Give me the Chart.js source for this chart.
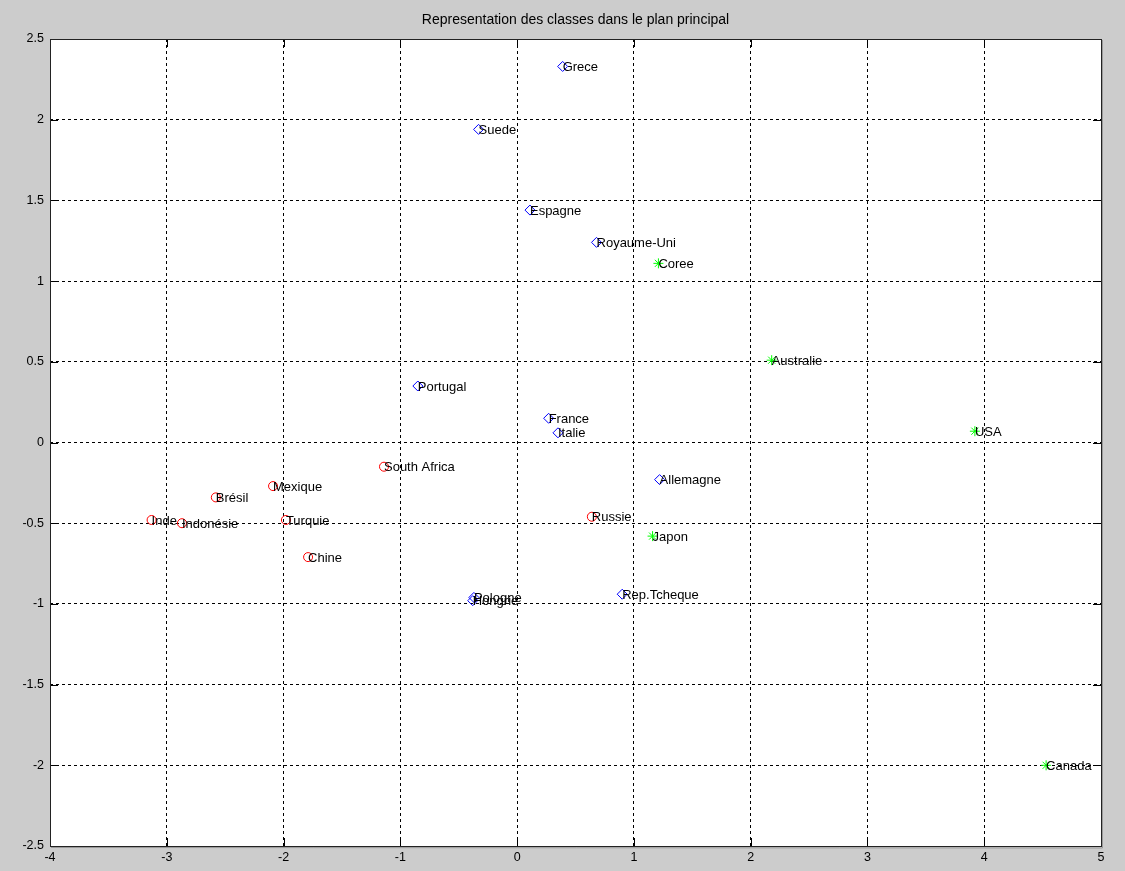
<!DOCTYPE html>
<html>
<head>
<meta charset="utf-8">
<script src="https://cdn.jsdelivr.net/npm/chart.js@4.4.1/dist/chart.umd.min.js"></script>
<style>
  html, body { margin: 0; padding: 0; background: #cccccc; }
  #wrap { width: 1125px; height: 871px; }
</style>
</head>
<body>
<div id="wrap"><canvas id="c" width="1125" height="871"></canvas></div>
<script>
const names = ["Grece","Suede","Espagne","Royaume-Uni","Portugal","France","Italie","Allemagne","Rep.Tcheque","Pologne","Hongrie",
               "South Africa","Mexique","Brésil","Russie","Inde","Indonésie","Turquie","Chine",
               "Coree","Australie","USA","Japon","Canada"];
const xs = [0.39,-0.33,0.11,0.68,-0.85,0.27,0.35,1.22,0.90,-0.37,-0.38,
            -1.14,-2.09,-2.58,0.64,-3.13,-2.87,-1.98,-1.79,
            1.21,2.18,3.92,1.16,4.53];
const ys = [2.33,1.94,1.44,1.24,0.35,0.15,0.06,-0.23,-0.94,-0.96,-0.98,
            -0.15,-0.27,-0.34,-0.46,-0.48,-0.50,-0.48,-0.71,
            1.11,0.51,0.07,-0.58,-2.00];
const groups = [0,0,0,0,0,0,0,0,0,0,0,
                1,1,1,1,1,1,1,1,
                2,2,2,2,2];
const xTicks = [-4,-3,-2,-1,0,1,2,3,4,5];
const yTicks = [-2.5,-2,-1.5,-1,-0.5,0,0.5,1,1.5,2,2.5];
const titleText = "Representation des classes dans le plan principal";

const groupStyles = [
  {color: "#0000ff", style: "rectRot", radius: 5},
  {color: "#ff0000", style: "circle", radius: 4.5},
  {color: "#00ff00", style: "star", radius: 5}
];
const FONT = "'Liberation Sans', Arial, Helvetica, sans-serif";

const datasets = groupStyles.map((g, gi) => ({
  label: "G" + (gi + 1),
  data: names.map((n, i) => ({x: xs[i], y: ys[i], name: n, g: groups[i]})).filter(p => p.g === gi),
  showLine: false,
  pointStyle: g.style,
  pointRadius: g.radius,
  pointHoverRadius: g.radius,
  pointBorderColor: g.color,
  pointBackgroundColor: "rgba(0,0,0,0)",
  pointBorderWidth: 1
}));

const framePlugin = {
  id: "frame",
  beforeDraw(chart) {
    const {ctx, chartArea: a} = chart;
    ctx.save();
    ctx.fillStyle = "#cccccc";
    ctx.fillRect(0, 0, chart.width, chart.height);
    ctx.fillStyle = "#ffffff";
    ctx.fillRect(a.left, a.top, a.right - a.left, a.bottom - a.top);
    ctx.restore();
  },
  afterDatasetsDraw(chart) {
    const {ctx} = chart;
    const xs_ = chart.scales.x, ys_ = chart.scales.y;
    ctx.save();
    ctx.font = "13px " + FONT;
    ctx.fillStyle = "#000";
    ctx.textAlign = "left";
    ctx.textBaseline = "middle";
    chart.data.datasets.forEach(ds => {
      ds.data.forEach(p => {
        ctx.fillText(p.name, xs_.getPixelForValue(p.x), ys_.getPixelForValue(p.y) + 1);
      });
    });
    ctx.restore();
  },
  afterDraw(chart) {
    const {ctx, chartArea: a} = chart;
    const L = 8;
    ctx.save();
    ctx.strokeStyle = "#000";
    ctx.lineWidth = 1;
    ctx.beginPath();
    chart.scales.x.ticks.forEach(t => {
      const px = Math.round(chart.scales.x.getPixelForValue(t.value)) + 0.5;
      ctx.moveTo(px, a.bottom); ctx.lineTo(px, a.bottom - L);
      ctx.moveTo(px, a.top); ctx.lineTo(px, a.top + L);
    });
    chart.scales.y.ticks.forEach(t => {
      const py = Math.round(chart.scales.y.getPixelForValue(t.value)) + 0.5;
      ctx.moveTo(a.left, py); ctx.lineTo(a.left + L, py);
      ctx.moveTo(a.right, py); ctx.lineTo(a.right - L, py);
    });
    ctx.stroke();
    ctx.strokeStyle = "#222";
    ctx.strokeRect(Math.round(a.left) + 0.5, Math.round(a.top) + 0.5,
                   Math.round(a.right - a.left), Math.round(a.bottom - a.top));
    ctx.strokeStyle = "#999";
    ctx.beginPath();
    ctx.moveTo(Math.round(a.right) + 1.5, a.top + 1);
    ctx.lineTo(Math.round(a.right) + 1.5, a.bottom + 2);
    ctx.lineTo(a.left + 1, a.bottom + 1.5);
    ctx.stroke();
    // title, centred over the plot area
    ctx.font = "14px " + FONT;
    ctx.fillStyle = "#000";
    ctx.textAlign = "center";
    ctx.textBaseline = "middle";
    ctx.fillText(titleText, (a.left + a.right) / 2, 20);
    ctx.restore();
  }
};

new Chart(document.getElementById("c"), {
  type: "scatter",
  data: {datasets},
  plugins: [framePlugin],
  options: {
    responsive: false,
    animation: false,
    events: [],
    layout: {padding: {left: 0, right: 24, top: 39, bottom: 0}},
    plugins: {
      legend: {display: false},
      tooltip: {enabled: false},
      title: {display: false}
    },
    scales: {
      x: {
        type: "linear",
        min: -4, max: 5,
        afterBuildTicks(scale) { scale.ticks = xTicks.map(v => ({value: v})); },
        afterFit(scale) { scale.height = 25; },
        ticks: {
          color: "#000",
          font: {family: FONT, size: 12.5},
          padding: 4,
          maxRotation: 0,
          autoSkip: false,
          callback: v => String(v)
        },
        grid: {color: "#000", lineWidth: 1, drawTicks: false, tickLength: 0},
        border: {display: false, dash: [3, 3]}
      },
      y: {
        type: "linear",
        min: -2.5, max: 2.5,
        afterBuildTicks(scale) { scale.ticks = yTicks.map(v => ({value: v})); },
        afterFit(scale) { scale.width = 50; },
        ticks: {
          color: "#000",
          font: {family: FONT, size: 12.5},
          padding: 6,
          autoSkip: false,
          callback: v => String(v)
        },
        grid: {color: "#000", lineWidth: 1, drawTicks: false, tickLength: 0},
        border: {display: false, dash: [3, 3]}
      }
    }
  }
});
</script>
</body>
</html>
